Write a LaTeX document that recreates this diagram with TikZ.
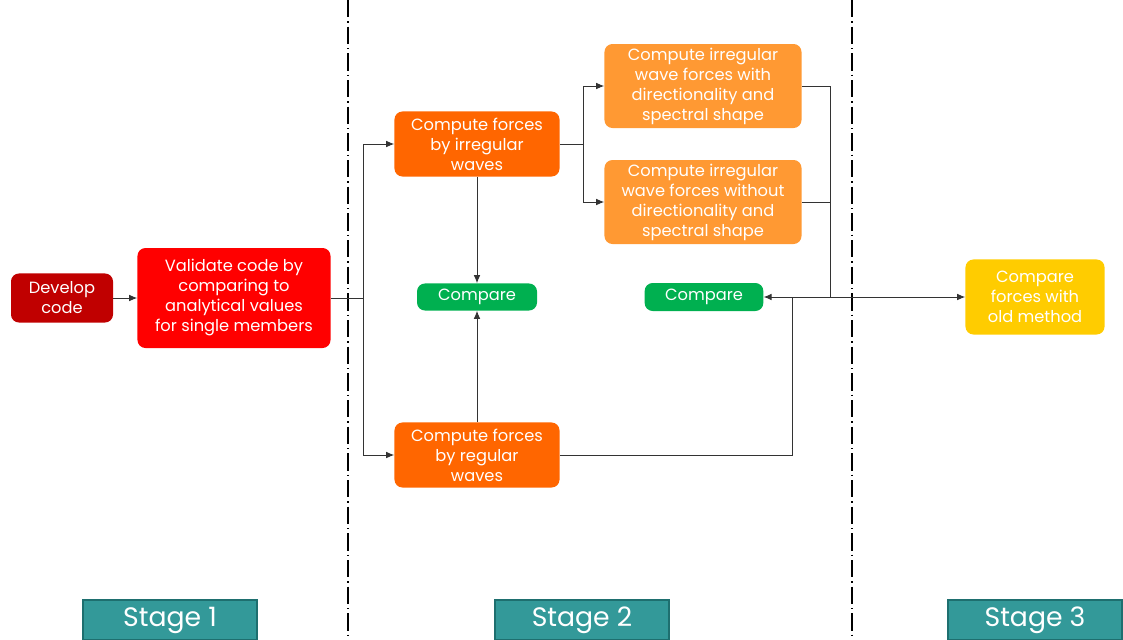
\documentclass[tikz,border=0pt]{standalone}
\usepackage{fontspec}
\setmainfont{Poppins}
\usetikzlibrary{arrows.meta}
\definecolor{devred}{HTML}{C00000}
\definecolor{valred}{HTML}{FF0000}
\definecolor{waveorange}{HTML}{FF6600}
\definecolor{lightorange}{HTML}{FF9933}
\definecolor{cmpgreen}{HTML}{00B050}
\definecolor{oldyellow}{HTML}{FFCC00}
\definecolor{stageteal}{HTML}{339999}
\definecolor{stageedge}{HTML}{1E6F6F}
\begin{document}
\begin{tikzpicture}[x=0.75pt,y=-0.75pt,>={Latex[length=6pt,width=5pt]},
		font=\fontsize{12.2}{15}\selectfont,
		box/.style={rounded corners=6pt,text=white,align=center,inner sep=0pt},
		link/.style={line width=0.7pt,draw=black!80},
		border/.style={line width=1.5pt,dash pattern=on 13pt off 3pt on 1pt off 3pt},
		stagebox/.style={fill=stageteal,draw=stageedge,line width=0.8pt,text=white,
			minimum width=130.5pt,minimum height=30pt,inner sep=0pt,font=\fontsize{20}{22}\selectfont}]
		\useasboundingbox (0,0) rectangle (1123,639);
		% stage borders
		\draw[border] (348,0)--(348,639);
		\draw[border] (852,0)--(852,639);
		% boxes
		\node[box,fill=devred,minimum width=76.5pt,minimum height=36.8pt] (dev) at (62,298) {Develop\\code};
		\node[box,fill=valred,minimum width=144.8pt,minimum height=75pt] (val) at (234,298) {Validate code by\\comparing to\\analytical values\\for single members};
		\node[box,fill=waveorange,minimum width=123.8pt,minimum height=48.8pt] (irr) at (477,144) {Compute forces\\by irregular\\waves};
		\node[box,fill=waveorange,minimum width=123.8pt,minimum height=48.8pt] (reg) at (477,455) {Compute forces\\by regular\\waves};
		\node[box,fill=cmpgreen,minimum width=90pt,minimum height=20.3pt] (cmpa) at (477,297) {Compare};
		\node[box,fill=lightorange,minimum width=147.8pt,minimum height=63pt] (with) at (703,86) {Compute irregular\\wave forces with\\directionality and\\spectral shape};
		\node[box,fill=lightorange,minimum width=147.8pt,minimum height=63pt] (without) at (703,202) {Compute irregular\\wave forces without\\directionality and\\spectral shape};
		\node[box,fill=cmpgreen,minimum width=89pt,minimum height=21pt] (cmpb) at (704,297) {Compare};
		\node[box,fill=oldyellow,minimum width=104.3pt,minimum height=56.3pt] (old) at (1035,297) {Compare\\forces with\\old method};
		% stage labels
		\node[stagebox] (sa) at (170,620) {Stage 1};
		\node[stagebox] (sb) at (582,620) {Stage 2};
		\node[stagebox] (sc) at (1035,620) {Stage 3};
		% connectors
		\coordinate (ja) at (363,298);
		\coordinate (jb) at (583,144);
		\coordinate (jc) at (830,297);
		\coordinate (jd) at (792,297);
		\draw[link,->] (dev)--(val);
		\draw[link] (val)--(ja);
		\draw[link,->] (ja) |- (irr.west);
		\draw[link,->] (ja) |- (reg.west);
		\draw[link,->] (irr)--(cmpa);
		\draw[link,->] (reg)--(cmpa);
		\draw[link] (irr.east)--(jb);
		\draw[link,->] (jb) |- (with.west);
		\draw[link,->] (jb) |- (without.west);
		\draw[link] (with.east) -| (jc);
		\draw[link] (without.east) -| (jc);
		\draw[link,->] (jc)--(cmpb.east);
		\draw[link,->] (reg.east) -| (jd)--(old.west);
	\end{tikzpicture}
\end{document}
